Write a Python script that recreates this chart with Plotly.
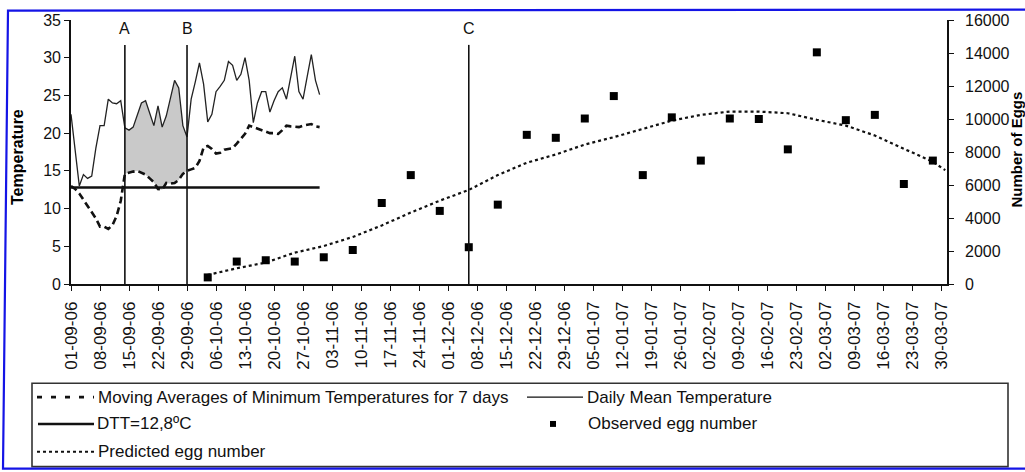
import plotly.graph_objects as go
import pandas as pd

# ---------------- data ----------------
start_date = "2006-09-01"
mean_temp = [22.5, 17.7, 13.0, 14.5, 14.0, 14.3, 18.0, 21.0, 21.0, 24.5,
             24.0, 23.9, 24.3, 20.7, 20.4, 20.8, 22.5, 24.0, 24.3, 22.5,
             21.0, 23.6, 20.8, 22.3, 24.5, 27.0, 26.0, 21.0, 19.5, 24.5,
             26.8, 29.3, 26.5, 21.5, 22.5, 25.5, 26.2, 27.0, 29.5, 29.0,
             27.0, 27.8, 30.0, 27.0, 21.4, 24.0, 25.5, 25.5, 22.8, 24.3,
             25.5, 26.0, 24.5, 27.5, 30.2, 25.5, 24.5, 27.5, 30.4, 27.0, 25.1]
min_temp_ma = [13.0, 12.6, 12.0, 11.2, 10.3, 9.5, 8.7, 7.6, 7.6, 7.3,
               7.8, 9.0, 11.0, 14.6, 14.8, 14.9, 15.0, 14.8, 14.5, 14.0,
               13.5, 12.6, 12.5, 13.4, 13.3, 13.4, 13.8, 14.6, 15.0, 15.2,
               15.4, 16.3, 18.1, 18.3, 17.9, 17.3, 17.4, 17.8, 17.9, 18.0,
               18.6, 19.3, 19.9, 21.0, 20.8, 20.7, 20.5, 20.3, 20.0, 20.0,
               19.9, 20.4, 21.0, 20.9, 20.8, 20.8, 21.0, 21.1, 21.2, 20.9, 20.8]
temp_dates = pd.date_range(start_date, periods=len(mean_temp), freq="D")

egg_start = "2006-10-04"
observed_eggs = [400, 1360, 1440, 1360, 1620, 2060, 4910, 6600, 4430, 2230,
                 4810, 9040, 8860, 10030, 11390, 6600, 10100, 7480, 10030, 10000,
                 8160, 14040, 9930, 10250, 6060, 7480]
egg_dates = pd.date_range(egg_start, periods=len(observed_eggs), freq="7D")

predicted_eggs = [550, 950, 1300, 1900, 2300, 2850, 3550, 4330, 5050, 5700,
                  6600, 7350, 7850, 8450, 8900, 9400, 9900, 10250, 10450, 10450,
                  10350, 9950, 9600, 9000, 8200, 7400, 6900]
predicted_dates = list(egg_dates) + [pd.Timestamp("2007-03-31")]

dtt_value = 12.8
dtt_dates = ["2006-09-01", "2006-10-31"]

event_labels = ["A", "B", "C"]
event_dates = ["2006-09-14", "2006-09-29", "2006-12-06"]
event_top = 31.7
label_y = 33.9
shade_from, shade_to = "2006-09-14", "2006-09-29"

tick_dates = pd.date_range("2006-09-01", "2007-03-30", freq="7D")
tick_text = [d.strftime("%d-%m-%y") for d in tick_dates]

# ---------------- geometry helpers ----------------
W, H = 1025, 472
L, R, T, B = 71, 947, 18, 284


def px(x):
    return (x - L) / (R - L)


def py(y):
    return (B - y) / (B - T)


FONT = "Arial, 'Liberation Sans', sans-serif"

fig = go.Figure()

# shaded area between A and B
mask = (temp_dates >= pd.Timestamp(shade_from)) & (temp_dates <= pd.Timestamp(shade_to))
sd = temp_dates[mask]
lo = [v for v, m in zip(min_temp_ma, mask) if m]
hi = [v for v, m in zip(mean_temp, mask) if m]
fig.add_trace(go.Scatter(x=sd, y=lo, mode="lines", line=dict(width=0),
                         showlegend=False, hoverinfo="skip"))
fig.add_trace(go.Scatter(x=sd, y=hi, mode="lines", line=dict(width=0),
                         fill="tonexty", fillcolor="#c9c9c9",
                         showlegend=False, hoverinfo="skip"))

fig.add_trace(go.Scatter(x=temp_dates, y=mean_temp, mode="lines",
                         name="Daily Mean Temperature",
                         line=dict(color="#222222", width=1.3), showlegend=False))
fig.add_trace(go.Scatter(x=temp_dates, y=min_temp_ma, mode="lines",
                         name="Moving Averages of Minimum Temperatures for 7 days",
                         line=dict(color="#111111", width=2.6, dash="7px,4px"),
                         showlegend=False))
fig.add_trace(go.Scatter(x=dtt_dates, y=[dtt_value, dtt_value], mode="lines",
                         name="DTT=12,8ºC",
                         line=dict(color="#111111", width=2.4), showlegend=False))
fig.add_trace(go.Scatter(x=predicted_dates, y=predicted_eggs, mode="lines",
                         name="Predicted egg number", yaxis="y2",
                         line=dict(color="#111111", width=2.2, dash="3px,3px"),
                         showlegend=False))
fig.add_trace(go.Scatter(x=egg_dates, y=observed_eggs, mode="markers",
                         name="Observed egg number", yaxis="y2",
                         marker=dict(symbol="square", size=8, color="#000000"),
                         showlegend=False))

shapes = []
annotations = []
for lab, d in zip(event_labels, event_dates):
    shapes.append(dict(type="line", xref="x", yref="y", x0=d, x1=d, y0=0, y1=event_top,
                       line=dict(color="#111111", width=1.6)))
    annotations.append(dict(x=d, y=label_y, xref="x", yref="y", text=lab, showarrow=False,
                            font=dict(family=FONT, size=16, color="#111111"),
                            xanchor="center", yanchor="middle"))

# axis titles
annotations.append(dict(x=px(18), y=py(156), xref="paper", yref="paper", text="<b>Temperature</b>",
                        textangle=-90, showarrow=False, xanchor="center", yanchor="middle",
                        font=dict(family=FONT, size=16, color="#000000")))
annotations.append(dict(x=px(1016.5), y=py(148), xref="paper", yref="paper", text="<b>Number of Eggs</b>",
                        textangle=-90, showarrow=False, xanchor="center", yanchor="middle",
                        font=dict(family=FONT, size=15, color="#000000")))

# legend box (manual, to match the reference layout)
shapes.append(dict(type="rect", xref="paper", yref="paper", x0=px(32), x1=px(1008),
                   y0=py(384), y1=py(468), line=dict(color="#333333", width=1.6),
                   fillcolor="rgba(0,0,0,0)"))
rows = [398, 425, 453]
shapes.append(dict(type="line", xref="paper", yref="paper", x0=px(37), x1=px(94),
                   y0=py(rows[0]), y1=py(rows[0]),
                   line=dict(color="#111111", width=2.6, dash="5px,9px")))
shapes.append(dict(type="line", xref="paper", yref="paper", x0=px(38), x1=px(94),
                   y0=py(rows[1]), y1=py(rows[1]), line=dict(color="#111111", width=2.6)))
shapes.append(dict(type="line", xref="paper", yref="paper", x0=px(37), x1=px(94),
                   y0=py(rows[2]), y1=py(rows[2]),
                   line=dict(color="#111111", width=2, dash="3px,3px")))
shapes.append(dict(type="line", xref="paper", yref="paper", x0=px(527), x1=px(583),
                   y0=py(rows[0]), y1=py(rows[0]), line=dict(color="#111111", width=1.3)))
shapes.append(dict(type="rect", xref="paper", yref="paper", x0=px(550), x1=px(556),
                   y0=py(rows[1] + 3), y1=py(rows[1] - 3), line=dict(width=0),
                   fillcolor="#000000"))
legend_items = [(96, rows[0], "Moving Averages of Minimum Temperatures for 7 days"),
                (95, rows[1], "DTT=12,8ºC"),
                (96, rows[2], "Predicted egg number"),
                (585, rows[0], "Daily Mean Temperature"),
                (586, rows[1], "Observed egg number")]
for x, y, t in legend_items:
    annotations.append(dict(x=px(x), y=py(y), xref="paper", yref="paper", text=t,
                            showarrow=False, xanchor="left", yanchor="middle",
                            font=dict(family=FONT, size=17, color="#111111")))

# blue frame
shapes.append(dict(type="path", xref="paper", yref="paper",
                   path=f"M {px(1040)},{py(7.5)} L {px(8)},{py(8.5)} L {px(3)},{py(470)} L {px(1040)},{py(470)}",
                   line=dict(color="#1414e6", width=2.2)))

axis_common = dict(showline=True, linecolor="#111111", linewidth=1.6, ticks="outside",
                   tickcolor="#111111", tickwidth=1.4, showgrid=False, zeroline=False)

fig.update_layout(
    width=W, height=H,
    margin=dict(l=L, r=W - R, t=T, b=H - B, pad=0),
    paper_bgcolor="white", plot_bgcolor="white",
    showlegend=False,
    xaxis=dict(type="date", range=["2006-09-01", "2007-03-31 10:00"],
               tickvals=list(tick_dates), ticktext=tick_text, tickangle=-90,
               ticklen=5, ticklabelstandoff=4,
               tickfont=dict(family=FONT, size=17, color="#111111"), **axis_common),
    yaxis=dict(range=[0, 35], dtick=5, tick0=0, ticklen=5,
               tickfont=dict(family=FONT, size=16, color="#111111"), **axis_common),
    yaxis2=dict(range=[0, 16000], dtick=2000, tick0=0, overlaying="y", side="right",
                ticklen=5, ticklabelstandoff=8, tickformat="d",
                tickfont=dict(family=FONT, size=16, color="#111111"), **axis_common),
    shapes=shapes,
    annotations=annotations,
)

fig.write_html("out.html", config={"displayModeBar": False},
               post_script="document.body.style.margin='0';document.body.style.overflow='hidden';")
